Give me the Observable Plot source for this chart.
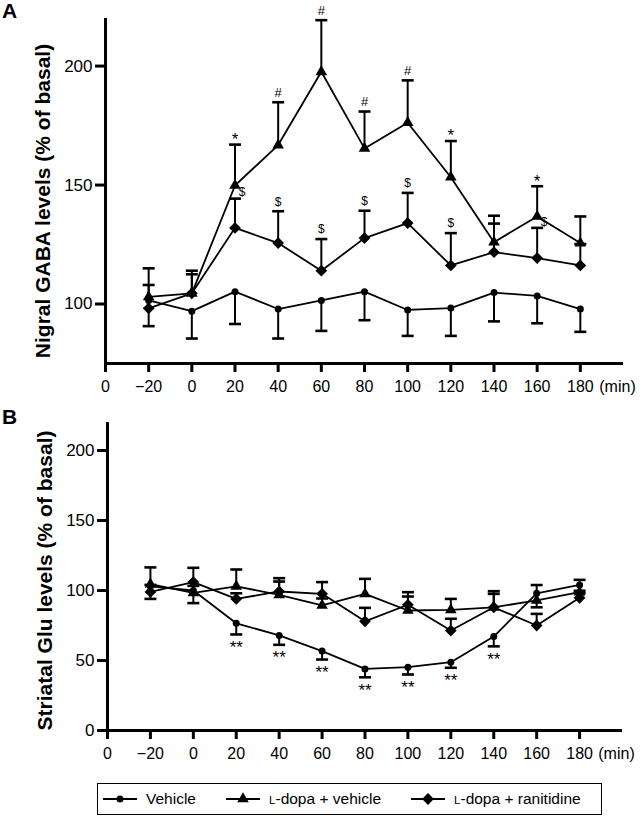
<!DOCTYPE html>
<html>
<head>
<meta charset="utf-8">
<script src="https://cdn.jsdelivr.net/npm/d3@7"></script>
<script src="https://cdn.jsdelivr.net/npm/@observablehq/plot@0.6"></script>
<style>
  html, body { margin: 0; padding: 0; background: #fff; }
  body { font-family: "Liberation Sans", Arial, sans-serif; color: #000; }
  #wrap { position: relative; width: 643px; height: 817px; overflow: hidden; }
  .panel { position: absolute; left: 0; }
  .letter { position: absolute; font-weight: bold; font-size: 21px; line-height: 21px; }
  #legend { position: absolute; left: 97px; top: 783px; width: 505px; height: 32px;
            border: 1px solid #000; box-sizing: border-box; font-size: 15.5px; }
  .item { position: absolute; top: 0; height: 30px; display: flex; align-items: center; }
  .item svg { display: block; margin-right: 8px; }
  .sc { font-size: 0.75em; }
</style>
</head>
<body>
<div id="wrap">
  <div id="panelA" class="panel" style="top:0px"></div>
  <div id="panelB" class="panel" style="top:400px"></div>
  <div class="letter" style="left:2px; top:0px">A</div>
  <div class="letter" style="left:2px; top:406px">B</div>
  <div id="legend"></div>
</div>
<script>
// ---------- shared axis data ----------
const times = [-20, 0, 20, 40, 60, 80, 100, 120, 140, 160, 180];
const xTickValues = [-40, -20, 0, 20, 40, 60, 80, 100, 120, 140, 160, 180];
const xTickLabels = ["0", "\u221220", "0", "20", "40", "60", "80", "100", "120", "140", "160", "180"];
const seriesNames = ["Vehicle", "L-dopa + vehicle", "L-dopa + ranitidine"];

// ---------- Panel A: Nigral GABA ----------
const gabaYTicks = [100, 150, 200];
const gabaVehicle    = [101.5, 97.0, 105.2, 97.9, 101.5, 105.2, 97.5, 98.3, 104.8, 103.4, 97.9];
const gabaVehicleErr = [10.8, 11.5, 13.6, 12.4, 12.8, 12.0, 10.9, 11.7, 12.1, 11.5, 9.6];
const gabaLdopa      = [103.0, 104.5, 149.8, 166.8, 197.6, 165.4, 176.2, 153.3, 126.0, 136.8, 125.6];
const gabaLdopaErr   = [12.0, 9.5, 17.2, 18.0, 21.7, 15.5, 17.8, 15.2, 11.1, 12.7, 11.2];
const gabaRanit      = [98.2, 104.5, 132.0, 125.6, 114.0, 127.7, 134.0, 116.2, 121.8, 119.3, 116.2];
const gabaRanitErr   = [9.8, 8.0, 12.3, 13.4, 13.3, 11.5, 12.7, 13.6, 12.0, 12.7, 9.0];
const gabaLdopaMarks = ["", "", "*", "#", "#", "#", "#", "*", "", "*", ""];
const gabaRanitMarks = ["", "", "$", "$", "$", "$", "$", "$", "", "$", ""];

// ---------- Panel B: Striatal Glu ----------
const gluYTicks = [0, 50, 100, 150, 200];
const gluVehicle    = [103.0, 100.0, 76.6, 67.9, 56.7, 44.0, 45.2, 48.8, 67.1, 98.0, 104.0];
const gluVehicleErr = [9.0, 9.0, 8.0, 6.7, 6.0, 6.0, 5.2, 4.0, 7.0, 10.0, 6.0];
const gluLdopa      = [104.5, 98.3, 103.0, 96.9, 89.3, 97.6, 85.7, 86.2, 88.0, 92.9, 98.8];
const gluLdopaErr   = [12.0, 5.0, 12.0, 9.5, 5.0, 10.7, 10.0, 7.8, 11.5, 11.0, 8.8];
const gluRanit      = [99.0, 106.0, 94.0, 99.3, 97.6, 78.0, 89.8, 71.4, 88.0, 75.0, 94.8];
const gluRanitErr   = [5.0, 10.2, 4.0, 9.5, 8.4, 9.6, 9.0, 8.4, 9.6, 8.3, 5.0];
const gluVehicleMarks = ["", "", "**", "**", "**", "**", "**", "**", "**", "", ""];

// ---------- helpers ----------
const FONT = '"Liberation Sans", Arial, sans-serif';
const xLabelMap = new Map(xTickValues.map((v, i) => [v, xTickLabels[i]]));
const capSymbol = {
  draw(ctx, size) {
    const w = Math.sqrt(size / Math.PI);
    ctx.moveTo(-w, 0); ctx.lineTo(w, 0);
  }
};
function makeRows(values, errs, series, dir, labels) {
  return times.map((t, i) => ({
    t, v: values[i], e: errs[i], series,
    cap: values[i] + dir * errs[i],
    label: labels ? labels[i] : ""
  }));
}

function drawPanel(cfg) {
  const [veh, ldo, ran] = cfg.rows;
  const all = veh.concat(ldo, ran);
  const above = ldo.filter(d => d.label);
  // "$" marks: above the ranitidine cap, or beside it when the other curve's marker sits there
  const dollars = ran.filter(d => d.label);
  const ldoAt = new Map(ldo.map(d => [d.t, d.v]));
  const dollarAbove = dollars.filter(d => Math.abs(ldoAt.get(d.t) - d.cap) >= 15);
  const dollarBeside = dollars.filter(d => Math.abs(ldoAt.get(d.t) - d.cap) < 15);
  const below = veh.filter(d => d.label);
  const xMin = xTickValues[0];
  const T = {fill: "black", stroke: "none"};
  return Plot.plot({
    width: 643,
    height: cfg.height,
    marginTop: cfg.marginTop,
    marginBottom: cfg.marginBottom,
    marginLeft: cfg.marginLeft,
    marginRight: cfg.marginRight,
    x: {domain: [xMin, 200]},
    y: {domain: cfg.yDomain},
    style: {fontFamily: FONT, background: "white", color: "black", overflow: "visible"},
    marks: [
      Plot.axisX({ticks: xTickValues, tickFormat: d => xLabelMap.get(d), tickSize: 9, tickPadding: 8,
                  fontSize: 16, strokeWidth: 3, label: null}),
      Plot.axisY({ticks: cfg.yTicks, tickSize: 10, tickPadding: 3, fontSize: 17, strokeWidth: 3, label: null}),
      Plot.ruleX([xMin], {stroke: "black", strokeWidth: 3}),
      Plot.ruleY([cfg.yDomain[0]], {stroke: "black", strokeWidth: 3}),
      Plot.text([cfg.yLabel], {...T, text: d => d, frameAnchor: "left", textAnchor: "middle", lineAnchor: "middle",
                  rotate: -90, dx: -62, dy: cfg.labelDy, fontSize: 21, fontWeight: "bold"}),
      Plot.text(["(min)"], {...T, text: d => d, frameAnchor: "bottom-right", textAnchor: "middle", lineAnchor: "middle",
                  dx: -6, dy: 23, fontSize: 16}),
      Plot.line(all, {x: "t", y: "v", z: "series", stroke: "black", strokeWidth: 1.8}),
      Plot.ruleX(all, {x: "t", y1: "v", y2: "cap", stroke: "black", strokeWidth: 2}),
      Plot.dot(all, {x: "t", y: "cap", symbol: capSymbol, r: 6, fill: "none", stroke: "black", strokeWidth: 2.6}),
      Plot.dot(veh, {x: "t", y: "v", r: 3.5, fill: "black", stroke: "none"}),
      Plot.dot(ldo, {x: "t", y: "v", symbol: "triangle", r: 4.3, fill: "black", stroke: "none"}),
      Plot.dot(ran, {x: "t", y: "v", symbol: "diamond2", r: 5.3, fill: "black", stroke: "none"}),
      Plot.text(above.filter(d => d.label === "*"), {...T, x: "t", y: "cap", text: "label", dy: -5, fontSize: 17}),
      Plot.text(above.filter(d => d.label !== "*"), {...T, x: "t", y: "cap", text: "label", dy: -9.5, fontSize: 13}),
      Plot.text(dollarAbove, {...T, x: "t", y: "cap", text: "label", dy: -9.5, fontSize: 12}),
      Plot.text(dollarBeside, {...T, x: "t", y: "cap", text: "label", dx: 7, dy: -6, fontSize: 12}),
      Plot.text(below, {...T, x: "t", y: "cap", text: "label", dy: 13, fontSize: 17})
    ]
  });
}

const plotA = drawPanel({
  height: 400, marginTop: 18, marginBottom: 37, marginLeft: 105, marginRight: 20,
  yDomain: [75, 220], yTicks: gabaYTicks, labelDy: 10,
  yLabel: "Nigral GABA levels (% of basal)",
  rows: [
    makeRows(gabaVehicle, gabaVehicleErr, seriesNames[0], -1, null),
    makeRows(gabaLdopa, gabaLdopaErr, seriesNames[1], 1, gabaLdopaMarks),
    makeRows(gabaRanit, gabaRanitErr, seriesNames[2], 1, gabaRanitMarks)
  ]
});
document.getElementById("panelA").appendChild(plotA);

const plotB = drawPanel({
  height: 380, marginTop: 22, marginBottom: 50, marginLeft: 107, marginRight: 21,
  yDomain: [0, 220], yTicks: gluYTicks, labelDy: 4,
  yLabel: "Striatal Glu levels (% of basal)",
  rows: [
    makeRows(gluVehicle, gluVehicleErr, seriesNames[0], -1, gluVehicleMarks),
    makeRows(gluLdopa, gluLdopaErr, seriesNames[1], 1, null),
    makeRows(gluRanit, gluRanitErr, seriesNames[2], 1, null)
  ]
});
document.getElementById("panelB").appendChild(plotB);

// ---------- legend ----------
const legendItems = [
  {name: seriesNames[0], sym: d3.symbolCircle, r: 3.5, left: 4},
  {name: seriesNames[1], sym: d3.symbolTriangle, r: 4.3, left: 127},
  {name: seriesNames[2], sym: d3.symbolDiamond2, r: 5.3, left: 312}
];
const legend = d3.select("#legend");
for (const it of legendItems) {
  const item = legend.append("div").attr("class", "item").style("left", it.left + "px");
  const svg = item.append("svg").attr("width", 36).attr("height", 16);
  svg.append("line").attr("x1", 1).attr("x2", 35).attr("y1", 8).attr("y2", 8)
     .attr("stroke", "black").attr("stroke-width", 1.8);
  svg.append("path").attr("transform", "translate(18,8)")
     .attr("d", d3.symbol(it.sym, Math.PI * it.r * it.r)()).attr("fill", "black");
  const span = item.append("span");
  if (it.name.startsWith("L-")) {
    span.append("span").attr("class", "sc").text("L");
    span.append("span").text(it.name.slice(1));
  } else {
    span.text(it.name);
  }
}
</script>
</body>
</html>
